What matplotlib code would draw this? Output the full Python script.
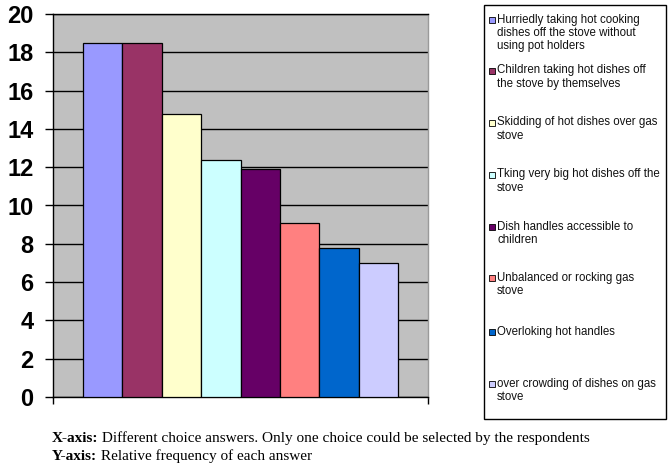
import matplotlib
matplotlib.use("Agg")
import matplotlib.pyplot as plt
from matplotlib.patches import Rectangle
import numpy as np

# ---- data ----
labels = [
    "Hurriedly taking hot cooking\ndishes off the stove without\nusing pot holders",
    "Children taking hot dishes off\nthe stove by themselves",
    "Skidding of hot dishes over gas\nstove",
    "Tking very big hot dishes off the\nstove",
    "Dish handles accessible to\nchildren",
    "Unbalanced or rocking gas\nstove",
    "Overloking hot handles",
    "over crowding of dishes on gas\nstove",
]
values = [18.5, 18.5, 14.8, 12.4, 11.9, 9.1, 7.8, 7.0]
colors = ["#9999FF", "#993366", "#FFFFCC", "#CCFFFF",
          "#660066", "#FF8080", "#0066CC", "#CCCCFF"]
yticks = [0, 2, 4, 6, 8, 10, 12, 14, 16, 18, 20]
caption_x_bold = "X-axis:"
caption_x_text = " Different choice answers. Only one choice could be selected by the respondents"
caption_y_bold = "Y-axis:"
caption_y_text = " Relative frequency of each answer"

W, H = 672, 469
fig = plt.figure(figsize=(W / 100, H / 100), dpi=100)
fig.patch.set_facecolor("white")

def fx(px):
    return px / W

def fy(py):
    return 1 - py / H

# ---- plot area ----
left, right, top, bottom = 53, 428, 14, 397
ax = fig.add_axes([fx(left), fy(bottom), fx(right - left), (bottom - top) / H])
ax.set_facecolor("#C0C0C0")
x = np.arange(len(values))
ax.bar(x, values, width=1.0, color=colors, edgecolor="black", linewidth=0.9, zorder=3)
ax.set_xlim(-1.26, len(values) - 1 + 1.26)
ax.set_ylim(0, 20)
ax.set_yticks(yticks)
ax.set_yticklabels([str(v) for v in yticks], fontsize=17, fontweight="bold",
                   family="Liberation Sans")
ax.yaxis.grid(True, color="black", linewidth=1.0, zorder=1)
ax.set_axisbelow(True)
ax.tick_params(axis="y", direction="out", length=6, width=1, pad=8, color="black")
ax.set_xticks([ax.get_xlim()[0], ax.get_xlim()[1]])
ax.set_xticklabels([])
ax.tick_params(axis="x", direction="out", length=5, width=1, color="black")
for s in ["left", "bottom", "top"]:
    ax.spines[s].set_color("black")
    ax.spines[s].set_linewidth(1.0)
ax.spines["right"].set_color("#9a9a9a")
ax.spines["right"].set_linewidth(1.0)

# ---- legend ----
lg_left, lg_top, lg_right, lg_bottom = 484, 5, 666, 419
fig.patches.append(Rectangle((fx(lg_left), fy(lg_bottom)), fx(lg_right - lg_left),
                             (lg_bottom - lg_top) / H, transform=fig.transFigure,
                             facecolor="white", edgecolor="black", linewidth=1.0))
first_line_y = [20, 71, 123, 175, 227, 278, 332, 384]
for lab, col, yy in zip(labels, colors, first_line_y):
    sq = 6
    fig.patches.append(Rectangle((fx(489), fy(yy + sq / 2)), fx(sq), sq / H,
                                 transform=fig.transFigure, facecolor=col,
                                 edgecolor="black", linewidth=0.6))
    fig.text(fx(497), fy(yy - 6.5), lab, fontsize=8.3, family="Liberation Sans",
             va="top", ha="left", linespacing=1.12, color="#111111")

# ---- caption ----
fig.canvas.draw()
r = fig.canvas.get_renderer()
for yy, b, t in [(438, caption_x_bold, caption_x_text), (456, caption_y_bold, caption_y_text)]:
    tb = fig.text(fx(52), fy(yy), b, fontsize=11, fontweight="bold",
                  family="Liberation Serif", va="center", ha="left")
    ext = tb.get_window_extent(renderer=r)
    fig.text(ext.x1 / W, fy(yy), t, fontsize=11, family="Liberation Serif",
             va="center", ha="left")

fig.savefig("out.png", dpi=100)
